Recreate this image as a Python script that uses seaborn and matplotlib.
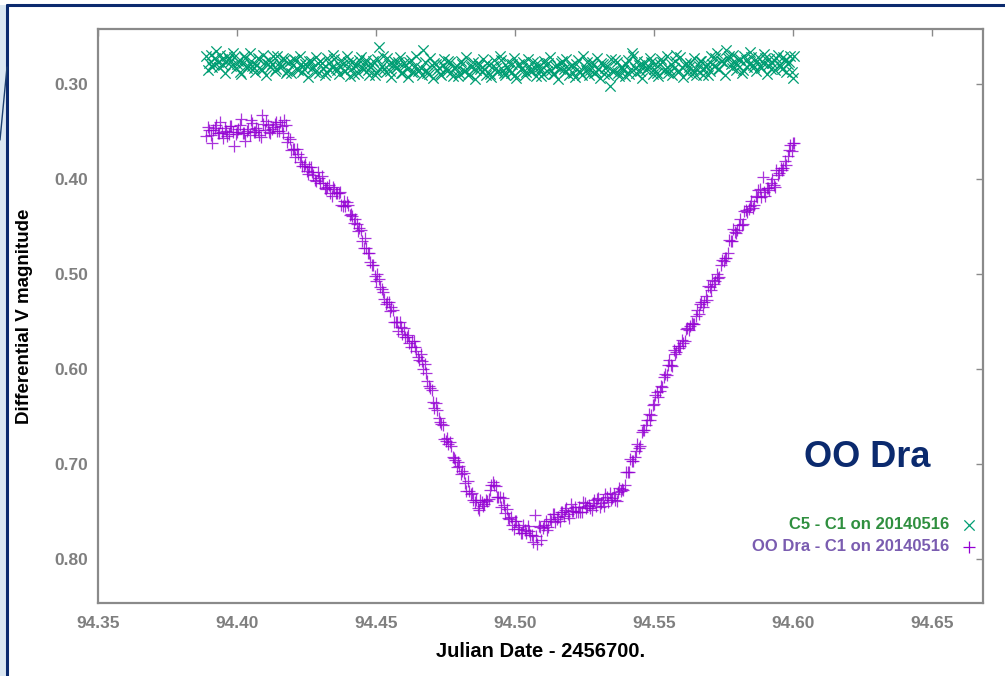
import matplotlib
matplotlib.use("Agg")
import matplotlib.pyplot as plt
from matplotlib.lines import Line2D
from matplotlib.patches import Rectangle
from matplotlib.ticker import FormatStrFormatter
import seaborn as sns
import pandas as pd

# Observation times (JD - 2456700), first frame of each exposure pair
jd_a = [
    94.389, 94.390, 94.391, 94.392, 94.393, 94.394, 94.395, 94.396, 94.397, 94.398,
    94.399, 94.400, 94.401, 94.402, 94.403, 94.404, 94.405, 94.406, 94.407, 94.408,
    94.409, 94.410, 94.411, 94.412, 94.413, 94.414, 94.415, 94.416, 94.417, 94.418,
    94.419, 94.420, 94.421, 94.422, 94.423, 94.424, 94.425, 94.426, 94.427, 94.428,
    94.429, 94.430, 94.431, 94.432, 94.433, 94.434, 94.435, 94.436, 94.437, 94.438,
    94.439, 94.440, 94.441, 94.442, 94.443, 94.444, 94.445, 94.446, 94.447, 94.448,
    94.449, 94.450, 94.451, 94.452, 94.453, 94.454, 94.455, 94.456, 94.457, 94.458,
    94.459, 94.460, 94.461, 94.462, 94.463, 94.464, 94.465, 94.466, 94.467, 94.468,
    94.469, 94.470, 94.471, 94.472, 94.473, 94.474, 94.475, 94.476, 94.477, 94.478,
    94.479, 94.480, 94.481, 94.482, 94.483, 94.484, 94.485, 94.486, 94.487, 94.488,
    94.489, 94.490, 94.491, 94.492, 94.493, 94.494, 94.495, 94.496, 94.497, 94.498,
    94.499, 94.500, 94.501, 94.502, 94.503, 94.504, 94.505, 94.506, 94.507, 94.508,
    94.509, 94.510, 94.511, 94.512, 94.513, 94.514, 94.515, 94.516, 94.517, 94.518,
    94.519, 94.520, 94.521, 94.522, 94.523, 94.524, 94.525, 94.526, 94.527, 94.528,
    94.529, 94.530, 94.531, 94.532, 94.533, 94.534, 94.535, 94.536, 94.537, 94.538,
    94.539, 94.540, 94.541, 94.542, 94.543, 94.544, 94.545, 94.546, 94.547, 94.548,
    94.549, 94.550, 94.551, 94.552, 94.553, 94.554, 94.555, 94.556, 94.557, 94.558,
    94.559, 94.560, 94.561, 94.562, 94.563, 94.564, 94.565, 94.566, 94.567, 94.568,
    94.569, 94.570, 94.571, 94.572, 94.573, 94.574, 94.575, 94.576, 94.577, 94.578,
    94.579, 94.580, 94.581, 94.582, 94.583, 94.584, 94.585, 94.586, 94.587, 94.588,
    94.589, 94.590, 94.591, 94.592, 94.593, 94.594, 94.595, 94.596, 94.597, 94.598,
    94.599, 94.600,
]

# Second frame of each exposure pair
jd_b = [
    94.3895, 94.3905, 94.3915, 94.3925, 94.3935, 94.3945, 94.3955, 94.3965, 94.3975, 94.3985,
    94.3995, 94.4005, 94.4015, 94.4025, 94.4035, 94.4045, 94.4055, 94.4065, 94.4075, 94.4085,
    94.4095, 94.4105, 94.4115, 94.4125, 94.4135, 94.4145, 94.4155, 94.4165, 94.4175, 94.4185,
    94.4195, 94.4205, 94.4215, 94.4225, 94.4235, 94.4245, 94.4255, 94.4265, 94.4275, 94.4285,
    94.4295, 94.4305, 94.4315, 94.4325, 94.4335, 94.4345, 94.4355, 94.4365, 94.4375, 94.4385,
    94.4395, 94.4405, 94.4415, 94.4425, 94.4435, 94.4445, 94.4455, 94.4465, 94.4475, 94.4485,
    94.4495, 94.4505, 94.4515, 94.4525, 94.4535, 94.4545, 94.4555, 94.4565, 94.4575, 94.4585,
    94.4595, 94.4605, 94.4615, 94.4625, 94.4635, 94.4645, 94.4655, 94.4665, 94.4675, 94.4685,
    94.4695, 94.4705, 94.4715, 94.4725, 94.4735, 94.4745, 94.4755, 94.4765, 94.4775, 94.4785,
    94.4795, 94.4805, 94.4815, 94.4825, 94.4835, 94.4845, 94.4855, 94.4865, 94.4875, 94.4885,
    94.4895, 94.4905, 94.4915, 94.4925, 94.4935, 94.4945, 94.4955, 94.4965, 94.4975, 94.4985,
    94.4995, 94.5005, 94.5015, 94.5025, 94.5035, 94.5045, 94.5055, 94.5065, 94.5075, 94.5085,
    94.5095, 94.5105, 94.5115, 94.5125, 94.5135, 94.5145, 94.5155, 94.5165, 94.5175, 94.5185,
    94.5195, 94.5205, 94.5215, 94.5225, 94.5235, 94.5245, 94.5255, 94.5265, 94.5275, 94.5285,
    94.5295, 94.5305, 94.5315, 94.5325, 94.5335, 94.5345, 94.5355, 94.5365, 94.5375, 94.5385,
    94.5395, 94.5405, 94.5415, 94.5425, 94.5435, 94.5445, 94.5455, 94.5465, 94.5475, 94.5485,
    94.5495, 94.5505, 94.5515, 94.5525, 94.5535, 94.5545, 94.5555, 94.5565, 94.5575, 94.5585,
    94.5595, 94.5605, 94.5615, 94.5625, 94.5635, 94.5645, 94.5655, 94.5665, 94.5675, 94.5685,
    94.5695, 94.5705, 94.5715, 94.5725, 94.5735, 94.5745, 94.5755, 94.5765, 94.5775, 94.5785,
    94.5795, 94.5805, 94.5815, 94.5825, 94.5835, 94.5845, 94.5855, 94.5865, 94.5875, 94.5885,
    94.5895, 94.5905, 94.5915, 94.5925, 94.5935, 94.5945, 94.5955, 94.5965, 94.5975, 94.5985,
    94.5995, 94.6005,
]

# OO Dra minus comparison C1 (eclipse light curve)
oo_dra_mag_a = [
    0.355, 0.348, 0.362, 0.346, 0.352, 0.340, 0.357, 0.349, 0.353, 0.344,
    0.365, 0.350, 0.343, 0.352, 0.360, 0.347, 0.338, 0.351, 0.346, 0.354,
    0.333, 0.348, 0.343, 0.352, 0.345, 0.340, 0.349, 0.344, 0.338, 0.361,
    0.358, 0.368, 0.377, 0.374, 0.377, 0.386, 0.392, 0.387, 0.393, 0.401,
    0.393, 0.404, 0.404, 0.410, 0.406, 0.418, 0.410, 0.415, 0.414, 0.428,
    0.428, 0.427, 0.437, 0.446, 0.447, 0.452, 0.465, 0.462, 0.478, 0.487,
    0.491, 0.507, 0.505, 0.516, 0.526, 0.529, 0.539, 0.538, 0.550, 0.560,
    0.556, 0.557, 0.566, 0.573, 0.570, 0.577, 0.587, 0.584, 0.600, 0.604,
    0.618, 0.622, 0.641, 0.643, 0.656, 0.659, 0.676, 0.679, 0.681, 0.694,
    0.703, 0.702, 0.707, 0.720, 0.718, 0.732, 0.738, 0.738, 0.748, 0.740,
    0.742, 0.739, 0.727, 0.719, 0.723, 0.735, 0.745, 0.743, 0.747, 0.758,
    0.764, 0.760, 0.766, 0.773, 0.764, 0.773, 0.771, 0.775, 0.754, 0.784,
    0.766, 0.767, 0.760, 0.766, 0.760, 0.753, 0.758, 0.760, 0.751, 0.748,
    0.753, 0.742, 0.749, 0.750, 0.745, 0.751, 0.741, 0.744, 0.746, 0.741,
    0.744, 0.736, 0.741, 0.744, 0.735, 0.731, 0.736, 0.738, 0.729, 0.728,
    0.727, 0.708, 0.708, 0.697, 0.693, 0.679, 0.681, 0.664, 0.659, 0.647,
    0.648, 0.637, 0.624, 0.623, 0.619, 0.605, 0.596, 0.596, 0.580, 0.582,
    0.578, 0.569, 0.571, 0.557, 0.555, 0.553, 0.544, 0.542, 0.529, 0.529,
    0.527, 0.514, 0.506, 0.507, 0.504, 0.490, 0.486, 0.483, 0.464, 0.465,
    0.456, 0.454, 0.442, 0.447, 0.433, 0.432, 0.423, 0.427, 0.419, 0.411,
    0.398, 0.418, 0.409, 0.404, 0.406, 0.391, 0.394, 0.390, 0.381, 0.376,
    0.364, 0.362,
]

oo_dra_mag_b = [
    0.345, 0.354, 0.348, 0.343, 0.352, 0.351, 0.346, 0.355, 0.344, 0.350,
    0.353, 0.347, 0.337, 0.352, 0.349, 0.354, 0.341, 0.351, 0.348, 0.356,
    0.342, 0.339, 0.351, 0.347, 0.342, 0.349, 0.340, 0.352, 0.343, 0.356,
    0.369, 0.368, 0.368, 0.382, 0.386, 0.384, 0.395, 0.387, 0.396, 0.402,
    0.399, 0.397, 0.409, 0.408, 0.415, 0.408, 0.415, 0.415, 0.427, 0.423,
    0.424, 0.438, 0.439, 0.442, 0.455, 0.454, 0.473, 0.473, 0.478, 0.491,
    0.502, 0.500, 0.514, 0.519, 0.532, 0.529, 0.535, 0.550, 0.550, 0.550,
    0.563, 0.566, 0.564, 0.577, 0.570, 0.581, 0.590, 0.592, 0.595, 0.613,
    0.620, 0.635, 0.636, 0.652, 0.658, 0.674, 0.673, 0.677, 0.693, 0.696,
    0.698, 0.710, 0.709, 0.728, 0.728, 0.731, 0.740, 0.746, 0.738, 0.744,
    0.738, 0.737, 0.722, 0.722, 0.735, 0.735, 0.736, 0.752, 0.757, 0.756,
    0.768, 0.760, 0.768, 0.773, 0.769, 0.765, 0.775, 0.782, 0.776, 0.765,
    0.780, 0.764, 0.769, 0.758, 0.753, 0.761, 0.756, 0.751, 0.755, 0.746,
    0.757, 0.749, 0.745, 0.750, 0.751, 0.740, 0.746, 0.743, 0.748, 0.738,
    0.737, 0.745, 0.738, 0.732, 0.740, 0.738, 0.732, 0.739, 0.725, 0.726,
    0.722, 0.708, 0.695, 0.697, 0.686, 0.683, 0.666, 0.664, 0.654, 0.654,
    0.638, 0.627, 0.629, 0.618, 0.608, 0.606, 0.591, 0.597, 0.584, 0.576,
    0.576, 0.573, 0.558, 0.559, 0.552, 0.553, 0.538, 0.532, 0.535, 0.523,
    0.513, 0.517, 0.511, 0.500, 0.503, 0.485, 0.483, 0.478, 0.465, 0.453,
    0.457, 0.448, 0.448, 0.434, 0.435, 0.428, 0.431, 0.418, 0.412, 0.419,
    0.414, 0.409, 0.412, 0.400, 0.408, 0.396, 0.388, 0.388, 0.385, 0.369,
    0.370, 0.362,
]

# Check star C5 minus comparison C1
check_mag_a = [
    0.271, 0.278, 0.282, 0.273, 0.277, 0.269, 0.280, 0.276, 0.274, 0.281,
    0.272, 0.279, 0.287, 0.278, 0.273, 0.281, 0.276, 0.283, 0.280, 0.274,
    0.285, 0.277, 0.279, 0.282, 0.271, 0.284, 0.278, 0.281, 0.275, 0.286,
    0.276, 0.280, 0.275, 0.285, 0.279, 0.284, 0.281, 0.276, 0.283, 0.287,
    0.278, 0.276, 0.283, 0.287, 0.278, 0.282, 0.274, 0.285, 0.281, 0.279,
    0.286, 0.277, 0.284, 0.289, 0.280, 0.275, 0.283, 0.278, 0.285, 0.282,
    0.276, 0.287, 0.261, 0.281, 0.284, 0.273, 0.286, 0.280, 0.283, 0.277,
    0.288, 0.278, 0.284, 0.277, 0.287, 0.281, 0.286, 0.283, 0.264, 0.285,
    0.289, 0.280, 0.278, 0.285, 0.289, 0.280, 0.284, 0.276, 0.287, 0.283,
    0.281, 0.288, 0.279, 0.286, 0.291, 0.282, 0.277, 0.285, 0.280, 0.287,
    0.284, 0.278, 0.289, 0.281, 0.283, 0.286, 0.275, 0.288, 0.282, 0.285,
    0.279, 0.290, 0.280, 0.284, 0.277, 0.287, 0.281, 0.286, 0.283, 0.278,
    0.285, 0.289, 0.280, 0.278, 0.285, 0.289, 0.280, 0.284, 0.276, 0.287,
    0.283, 0.281, 0.288, 0.279, 0.286, 0.291, 0.282, 0.277, 0.285, 0.280,
    0.287, 0.284, 0.278, 0.289, 0.281, 0.302, 0.286, 0.275, 0.288, 0.282,
    0.285, 0.279, 0.289, 0.267, 0.283, 0.276, 0.286, 0.280, 0.285, 0.282,
    0.277, 0.284, 0.288, 0.279, 0.277, 0.284, 0.288, 0.279, 0.283, 0.269,
    0.286, 0.282, 0.280, 0.287, 0.278, 0.285, 0.290, 0.281, 0.276, 0.284,
    0.279, 0.286, 0.279, 0.273, 0.284, 0.276, 0.278, 0.264, 0.270, 0.283,
    0.277, 0.280, 0.274, 0.285, 0.275, 0.279, 0.272, 0.282, 0.276, 0.281,
    0.278, 0.273, 0.280, 0.284, 0.275, 0.273, 0.280, 0.284, 0.275, 0.279,
    0.271, 0.294,
]

check_mag_b = [
    0.285, 0.269, 0.279, 0.265, 0.282, 0.274, 0.288, 0.271, 0.277, 0.267,
    0.283, 0.276, 0.289, 0.271, 0.283, 0.267, 0.281, 0.287, 0.273, 0.284,
    0.269, 0.290, 0.275, 0.279, 0.286, 0.270, 0.282, 0.273, 0.288, 0.278,
    0.288, 0.274, 0.284, 0.270, 0.287, 0.279, 0.293, 0.276, 0.282, 0.272,
    0.288, 0.278, 0.291, 0.273, 0.285, 0.269, 0.283, 0.289, 0.275, 0.286,
    0.271, 0.292, 0.277, 0.281, 0.288, 0.272, 0.284, 0.275, 0.290, 0.280,
    0.290, 0.274, 0.284, 0.270, 0.287, 0.279, 0.293, 0.276, 0.282, 0.272,
    0.288, 0.280, 0.293, 0.275, 0.287, 0.271, 0.285, 0.291, 0.277, 0.288,
    0.273, 0.294, 0.279, 0.283, 0.290, 0.274, 0.286, 0.277, 0.292, 0.282,
    0.292, 0.276, 0.286, 0.272, 0.289, 0.281, 0.295, 0.278, 0.284, 0.274,
    0.290, 0.280, 0.293, 0.275, 0.287, 0.271, 0.285, 0.291, 0.277, 0.288,
    0.273, 0.294, 0.279, 0.283, 0.290, 0.274, 0.286, 0.277, 0.292, 0.282,
    0.292, 0.276, 0.286, 0.272, 0.289, 0.281, 0.295, 0.278, 0.284, 0.274,
    0.290, 0.280, 0.293, 0.275, 0.287, 0.271, 0.285, 0.291, 0.277, 0.288,
    0.273, 0.294, 0.279, 0.283, 0.290, 0.274, 0.286, 0.277, 0.292, 0.282,
    0.292, 0.275, 0.285, 0.271, 0.288, 0.280, 0.294, 0.277, 0.283, 0.273,
    0.289, 0.279, 0.292, 0.274, 0.286, 0.270, 0.284, 0.290, 0.276, 0.287,
    0.272, 0.293, 0.278, 0.282, 0.289, 0.273, 0.285, 0.276, 0.291, 0.281,
    0.291, 0.271, 0.281, 0.267, 0.284, 0.276, 0.290, 0.273, 0.279, 0.269,
    0.285, 0.275, 0.288, 0.270, 0.282, 0.266, 0.280, 0.286, 0.272, 0.283,
    0.268, 0.289, 0.274, 0.278, 0.285, 0.269, 0.281, 0.272, 0.287, 0.277,
    0.287, 0.271,
]

series_labels = ["C5 - C1 on 20140516", "OO Dra - C1 on 20140516"]
x_ticks = [94.35, 94.40, 94.45, 94.50, 94.55, 94.60, 94.65]
y_ticks = [0.30, 0.40, 0.50, 0.60, 0.70, 0.80]

GREEN = "#009e73"
PURPLE = "#9400d3"
NAVY = "#0b2a6e"
FRAME = "#8a8a8a"
KEY_COLORS = ["#2f8f3f", "#7a5cb0"]

sns.set_theme(style="white")
plt.rcParams["font.family"] = ["Liberation Sans", "DejaVu Sans"]

df_check = pd.DataFrame({"jd": jd_a + jd_b, "mag": check_mag_a + check_mag_b})
df_var = pd.DataFrame({"jd": jd_a + jd_b, "mag": oo_dra_mag_a + oo_dra_mag_b})

fig = plt.figure(figsize=(10.05, 6.76), dpi=100)
fig.patch.set_facecolor("white")
ax = fig.add_axes([98 / 1005, 1 - 603 / 676, 885 / 1005, 574 / 676])

sns.scatterplot(data=df_check, x="jd", y="mag", ax=ax, marker="x", s=55,
                color=GREEN, linewidth=0.9, label=series_labels[0])
sns.scatterplot(data=df_var, x="jd", y="mag", ax=ax, marker="+", s=75,
                color=PURPLE, linewidth=0.9, alpha=0.8, label=series_labels[1])

ax.set_xlim(94.35, 94.6683)
ax.set_ylim(0.8463, 0.2421)
ax.set_xticks(x_ticks)
ax.set_yticks(y_ticks)
ax.xaxis.set_major_formatter(FormatStrFormatter("%.2f"))
ax.yaxis.set_major_formatter(FormatStrFormatter("%.2f"))

for side in ["left", "right", "top", "bottom"]:
    ax.spines[side].set_visible(True)
    ax.spines[side].set_color(FRAME)
    ax.spines[side].set_linewidth(1.6)

ax.tick_params(axis="both", which="major", direction="in", length=5, width=1.0,
               color=FRAME, top=True, right=True, labelcolor="#7f7f7f",
               labelsize=12.5)
ax.tick_params(axis="x", pad=9)
ax.tick_params(axis="y", pad=7)
for lab in ax.get_xticklabels() + ax.get_yticklabels():
    lab.set_fontweight("bold")

ax.set_xlabel("Julian Date - 2456700.", fontsize=14.5, fontweight="bold", color="black")
ax.set_ylabel("Differential V magnitude", fontsize=13.5, fontweight="bold", color="black")
ax.xaxis.set_label_coords(0.5, -0.068)
ax.yaxis.set_label_coords(-0.0737, 0.5)

ax.text(0.869, 0.254, "OO Dra", transform=ax.transAxes, ha="center", va="center",
        fontsize=26, fontweight="bold", color=NAVY)

leg = ax.legend(loc="lower right", bbox_to_anchor=(1.001, 0.07), frameon=False,
                markerfirst=False, handlelength=0.8, handletextpad=0.75,
                labelspacing=0.45, borderpad=0.0,
                prop={"weight": "bold", "size": 12},
                labelcolor=KEY_COLORS)
for col in leg._legend_handle_box.get_children():
    col.align = "right"
for h in leg.legend_handles:
    h.set_alpha(1.0)

# slide frame around the chart
fig.add_artist(Rectangle((0, 0), 7 / 1005, 1 - 5 / 676, transform=fig.transFigure,
                         facecolor="#dbe7f2", edgecolor="none", zorder=0))
fig.add_artist(Line2D([7 / 1005, 1], [1 - 5 / 676, 1 - 5 / 676], transform=fig.transFigure,
                      color=NAVY, linewidth=2.2))
fig.add_artist(Line2D([7 / 1005, 7 / 1005], [0, 1 - 5 / 676], transform=fig.transFigure,
                      color=NAVY, linewidth=2.2))
fig.add_artist(Line2D([7 / 1005, 0], [1 - 67 / 676, 1 - 140 / 676], transform=fig.transFigure,
                      color="#1c3f6e", linewidth=1.0))

fig.savefig("out.png", dpi=100)
